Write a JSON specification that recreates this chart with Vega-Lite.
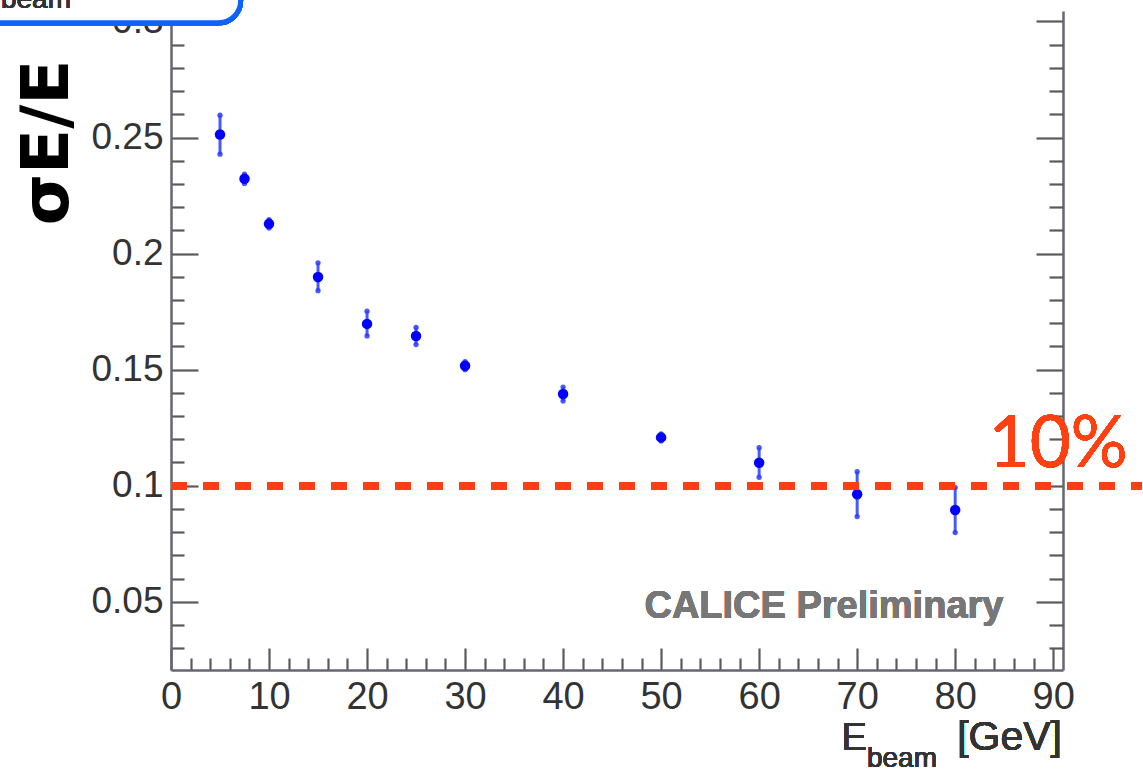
{
  "$schema": "https://vega.github.io/schema/vega-lite/v6.json",
  "width": 892,
  "height": 659,
  "autosize": "none",
  "padding": {"left": 171, "top": 11, "right": 80, "bottom": 100},
  "background": "white",
  "view": {"stroke": null},
  "config": {
    "axis": {
      "labelFont": "Liberation Sans",
      "labelColor": "#333333",
      "tickColor": "#5a5a5a",
      "domainColor": "#666672",
      "grid": false,
      "labelFlush": false,
      "labelOverlap": false,
      "tickWidth": 2.2,
      "domainWidth": 2.5
    }
  },
  "datasets": {
    "pts": [
      {"x": 5, "y": 0.2513, "lo": 0.2428, "hi": 0.2596},
      {"x": 7.5, "y": 0.2322, "lo": 0.2302, "hi": 0.2342},
      {"x": 10, "y": 0.2128, "lo": 0.2110, "hi": 0.2146},
      {"x": 15, "y": 0.1899, "lo": 0.1840, "hi": 0.1960},
      {"x": 20, "y": 0.1697, "lo": 0.1645, "hi": 0.1752},
      {"x": 25, "y": 0.1645, "lo": 0.1608, "hi": 0.1682},
      {"x": 30, "y": 0.1517, "lo": 0.1500, "hi": 0.1534},
      {"x": 40, "y": 0.1395, "lo": 0.1365, "hi": 0.1425},
      {"x": 50, "y": 0.1208, "lo": 0.1193, "hi": 0.1223},
      {"x": 60, "y": 0.1099, "lo": 0.1036, "hi": 0.1164},
      {"x": 70, "y": 0.0963, "lo": 0.0867, "hi": 0.1060},
      {"x": 80, "y": 0.0895, "lo": 0.0798, "hi": 0.0992}
    ]
  },
  "data": {"name": "pts"},
  "resolve": {"axis": {"x": "independent", "y": "independent"}},
  "layer": [
    {
      "mark": {"type": "point", "opacity": 0},
      "encoding": {
        "x": {"field": "x", "type": "quantitative", "scale": {"domain": [0, 91], "nice": false, "zero": false},
          "axis": {"orient": "bottom", "values": [2,4,6,8,12,14,16,18,22,24,26,28,32,34,36,38,42,44,46,48,52,54,56,58,62,64,66,68,72,74,76,78,82,84,86,88], "tickSize": -12, "labels": false, "domain": false, "title": null}},
        "y": {"field": "y", "type": "quantitative", "scale": {"domain": [0.0206, 0.3045], "nice": false, "zero": false},
          "axis": {"orient": "left", "values": [0.03,0.04,0.06,0.07,0.08,0.09,0.11,0.12,0.13,0.14,0.16,0.17,0.18,0.19,0.21,0.22,0.23,0.24,0.26,0.27,0.28,0.29], "tickSize": -13, "labels": false, "domain": false, "title": null}}
      }
    },
    {
      "mark": {"type": "point", "opacity": 0},
      "encoding": {
        "x": {"field": "x", "type": "quantitative", "axis": null},
        "y": {"field": "y", "type": "quantitative",
          "axis": {"orient": "right", "values": [0.05,0.1,0.15,0.2,0.25,0.3], "tickSize": -27, "labels": false, "domain": true, "title": null}}
      }
    },
    {
      "mark": {"type": "point", "opacity": 0},
      "encoding": {
        "x": {"field": "x", "type": "quantitative", "axis": null},
        "y": {"field": "y", "type": "quantitative",
          "axis": {"orient": "right", "values": [0.03,0.04,0.06,0.07,0.08,0.09,0.11,0.12,0.13,0.14,0.16,0.17,0.18,0.19,0.21,0.22,0.23,0.24,0.26,0.27,0.28,0.29], "tickSize": -14, "labels": false, "domain": false, "title": null}}
      }
    },
    {
      "mark": {"type": "rule", "color": "#2a3cff", "strokeWidth": 3, "opacity": 0.85},
      "encoding": {
        "x": {"field": "x", "type": "quantitative", "axis": null},
        "y": {"field": "lo", "type": "quantitative", "axis": null},
        "y2": {"field": "hi"}
      }
    },
    {
      "mark": {"type": "point", "filled": true, "color": "#2a3cff", "size": 28, "opacity": 0.85},
      "encoding": {
        "x": {"field": "x", "type": "quantitative", "axis": null},
        "y": {"field": "lo", "type": "quantitative", "axis": null}
      }
    },
    {
      "mark": {"type": "point", "filled": true, "color": "#2a3cff", "size": 28, "opacity": 0.85},
      "encoding": {
        "x": {"field": "x", "type": "quantitative", "axis": null},
        "y": {"field": "hi", "type": "quantitative", "axis": null}
      }
    },
    {
      "mark": {"type": "point", "filled": true, "shape": "circle", "color": "#0000ff", "size": 110, "opacity": 1},
      "encoding": {
        "x": {"field": "x", "type": "quantitative",
          "axis": {"orient": "bottom", "values": [0,10,20,30,40,50,60,70,80,90], "tickSize": -22, "labelPadding": 60, "labelBaseline": "alphabetic", "labelFontSize": 38, "domain": true, "title": null}},
        "y": {"field": "y", "type": "quantitative",
          "axis": {"orient": "left", "values": [0.05,0.1,0.15,0.2,0.25,0.3], "format": "~g", "tickSize": -27, "labelPadding": 35, "labelFontSize": 37, "domain": true,
            "title": "σE/E", "titleFont": "DejaVu Sans", "titleFontSize": 66, "titleFontWeight": "bold", "titleColor": "#000000",
            "titleX": -104, "titleY": 131, "titleAlign": "center", "titleBaseline": "alphabetic", "titleAngle": 270}}
      }
    },
    {
      "mark": {"type": "rule", "color": "#ff3d12", "strokeWidth": 7, "strokeDash": [16, 16]},
      "encoding": {
        "x": {"datum": 0, "type": "quantitative", "axis": null},
        "x2": {"datum": 99},
        "y": {"datum": 0.1, "type": "quantitative", "axis": null}
      }
    },
    {
      "mark": {"type": "text", "text": "10%", "font": "Lato", "fontSize": 71, "color": "#ff4010", "align": "center", "baseline": "alphabetic"},
      "encoding": {
        "x": {"datum": 90.5, "type": "quantitative", "axis": null},
        "y": {"datum": 0.1082, "type": "quantitative", "axis": null}
      }
    },
    {
      "mark": {"type": "text", "text": "CALICE Preliminary", "font": "Liberation Sans", "fontWeight": "bold", "fontSize": 38, "color": "#777777", "align": "left", "baseline": "alphabetic"},
      "encoding": {
        "x": {"datum": 48.3, "type": "quantitative", "axis": null},
        "y": {"datum": 0.0429, "type": "quantitative", "axis": null}
      }
    },
    {
      "mark": {"type": "text", "text": "E", "font": "Liberation Sans", "fontSize": 38, "color": "#333333", "align": "left", "baseline": "alphabetic"},
      "encoding": {
        "x": {"datum": 68.4, "type": "quantitative", "axis": null},
        "y": {"datum": -0.0138, "type": "quantitative", "axis": null}
      }
    },
    {
      "mark": {"type": "text", "text": "beam", "font": "Liberation Sans", "fontSize": 28, "color": "#333333", "align": "left", "baseline": "alphabetic"},
      "encoding": {
        "x": {"datum": 71.0, "type": "quantitative", "axis": null},
        "y": {"datum": -0.0211, "type": "quantitative", "axis": null}
      }
    },
    {
      "mark": {"type": "text", "text": "[GeV]", "font": "Liberation Sans", "fontSize": 41, "color": "#333333", "align": "right", "baseline": "alphabetic"},
      "encoding": {
        "x": {"datum": 90.9, "type": "quantitative", "axis": null},
        "y": {"datum": -0.0138, "type": "quantitative", "axis": null}
      }
    },
    {
      "mark": {"type": "rect", "fill": "white", "stroke": "#0d63f5", "strokeWidth": 5, "cornerRadius": 22},
      "encoding": {
        "x": {"datum": -30, "type": "quantitative", "axis": null},
        "x2": {"datum": 7.1},
        "y": {"datum": 0.2994, "type": "quantitative", "axis": null},
        "y2": {"datum": 0.34}
      }
    },
    {
      "mark": {"type": "text", "text": "beam", "font": "Liberation Sans", "fontSize": 28, "color": "#333333", "align": "left", "baseline": "alphabetic"},
      "encoding": {
        "x": {"datum": -17.35, "type": "quantitative", "axis": null},
        "y": {"datum": 0.3057, "type": "quantitative", "axis": null}
      }
    },
    {
      "mark": {"type": "text", "text": "[GeV]", "font": "Liberation Sans", "fontSize": 41, "color": "#333333", "align": "right", "baseline": "alphabetic"},
      "encoding": {
        "x": {"datum": 2.55, "type": "quantitative", "axis": null},
        "y": {"datum": 0.3130, "type": "quantitative", "axis": null}
      }
    }
  ]
}
